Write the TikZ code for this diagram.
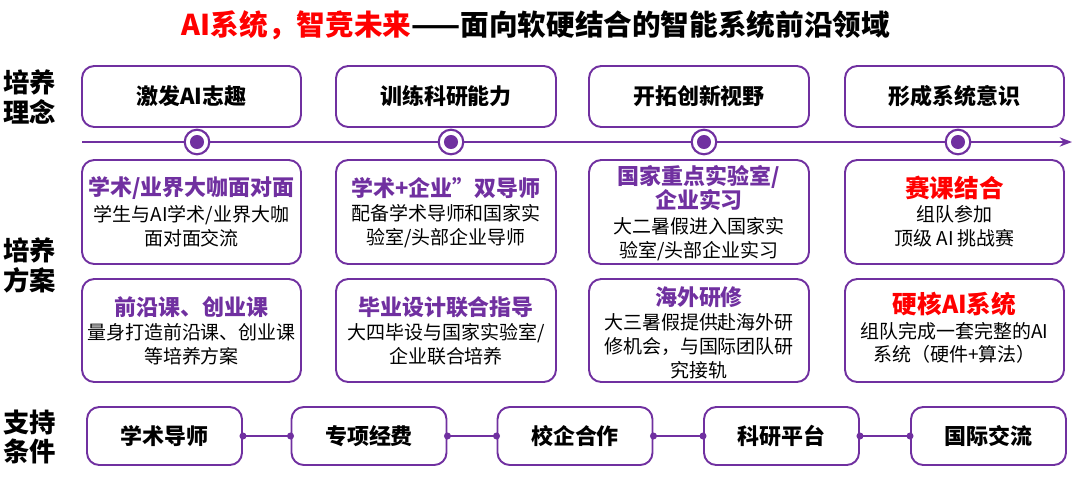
\documentclass[tikz,border=0pt]{standalone}
\usepackage{fontspec}
\setmainfont{Noto Sans CJK SC}
\usetikzlibrary{arrows.meta}
\definecolor{zipurple}{HTML}{7030A0}
\definecolor{zired}{HTML}{FF0000}
\tikzset{
  box/.style={draw=zipurple, line width=1.1pt, rounded corners=7pt, inner sep=0pt},
  side/.style={font=\fontsize{15}{17}\selectfont\bfseries, align=center},
  idea/.style={font=\fontsize{12.5}{14}\selectfont\bfseries},
  head/.style={font=\fontsize{12.5}{14}\selectfont\bfseries, text=zipurple, inner sep=0pt},
  body/.style={font=\fontsize{10.8}{13.6}\selectfont, align=center, inner sep=0pt},
  dot/.style={circle, fill=zipurple, inner sep=0pt, minimum size=4pt}
}
\begin{document}
\begin{tikzpicture}[x=0.02cm, y=-0.02cm]
\useasboundingbox (0,0) rectangle (1080,487);
% title
\node (title) at (536,25) {\fontsize{16.3}{18}\selectfont\bfseries\textcolor{zired}{AI系统，智竞未来}——面向软硬结合的智能系统前沿领域};

% side labels
\node[side] (s1) at (30,97) {培养\\理念};
\node[side] (s2) at (30,265) {培养\\方案};
\node[side] (s3) at (30,437) {支持\\条件};

% timeline
\coordinate (tl) at (82,142);
\coordinate (tr) at (1072,142);
\draw[zipurple, line width=1.1pt, -{Stealth[length=7pt]}] (tl) -- (tr);
\foreach \x in {197,451,704,958}{
  \node[circle, draw=zipurple, fill=white, line width=1.2pt, minimum size=14pt, inner sep=0pt] at (\x,142) {};
  \node[circle, fill=zipurple, minimum size=8pt, inner sep=0pt] at (\x,142) {};
}

% ideas
\draw[box] (82,66) rectangle (301,127);
\node[idea] (i1) at (191.5,96.5) {激发AI志趣};
\draw[box] (336,66) rectangle (556,127);
\node[idea] (i2) at (446,96.5) {训练科研能力};
\draw[box] (589,66) rectangle (809,127);
\node[idea] (i3) at (699,96.5) {开拓创新视野};
\draw[box] (845,66) rectangle (1064,127);
\node[idea] (i4) at (954.5,96.5) {形成系统意识};

% plans, upper row
\draw[box] (82,160) rectangle (301,264);
\node[head] (p1) at (191.5,188) {学术/业界大咖面对面};
\node[body, below=3pt] at (p1.south) {学生与AI学术/业界大咖\\面对面交流};
\draw[box] (336,160) rectangle (556,264);
\node[head] (p2) at (446,188) {学术+企业”双导师};
\node[body, below=3pt] at (p2.south) {配备学术导师和国家实\\验室/头部企业导师};
\draw[box] (589,160) rectangle (809,264);
\node[head, align=center, font=\fontsize{12.5}{14.2}\selectfont\bfseries] (p3) at (699,188) {国家重点实验室/\\企业实习};
\node[body, below=3pt] at (p3.south) {大二暑假进入国家实\\验室/头部企业实习};
\draw[box] (845,160) rectangle (1064,264);
\node[head, text=zired, font=\fontsize{14}{16}\selectfont\bfseries] (p4) at (954.5,188) {赛课结合};
\node[body, below=3pt] at (p4.south) {组队参加\\顶级 AI 挑战赛};

% plans, lower row
\draw[box] (82,279) rectangle (301,382);
\node[head] (q1) at (191.5,307) {前沿课、创业课};
\node[body, below=3pt] at (q1.south) {量身打造前沿课、创业课\\等培养方案};
\draw[box] (336,279) rectangle (556,382);
\node[head] (q2) at (446,307) {毕业设计联合指导};
\node[body, below=3pt] at (q2.south) {大四毕设与国家实验室/\\企业联合培养};
\draw[box] (589,279) rectangle (809,382);
\node[head] (q3) at (699,297) {海外研修};
\node[body, below=3pt] at (q3.south) {大三暑假提供赴海外研\\修机会，与国际团队研\\究接轨};
\draw[box] (845,279) rectangle (1064,382);
\node[head, text=zired, font=\fontsize{14}{16}\selectfont\bfseries] (q4) at (954.5,304) {硬核AI系统};
\node[body, below=3pt] at (q4.south) {组队完成一套完整的AI\\系统（硬件+算法）};

% support
\foreach \n/\x/\t in {c1/164.5/学术导师, c2/369/专项经费, c3/575/校企合作, c4/781.5/科研平台, c5/988.5/国际交流}{
  \node[box, idea, minimum height=58*0.02cm, minimum width=155*0.02cm] (\n) at (\x,436) {\t};
}
\foreach \a/\b in {c1/c2, c2/c3, c3/c4, c4/c5}{
  \draw[zipurple, line width=1pt] (\a.east) -- (\b.west);
  \node[dot] at (\a.east) {};
  \node[dot] at (\b.west) {};
}
\end{tikzpicture}
\end{document}
